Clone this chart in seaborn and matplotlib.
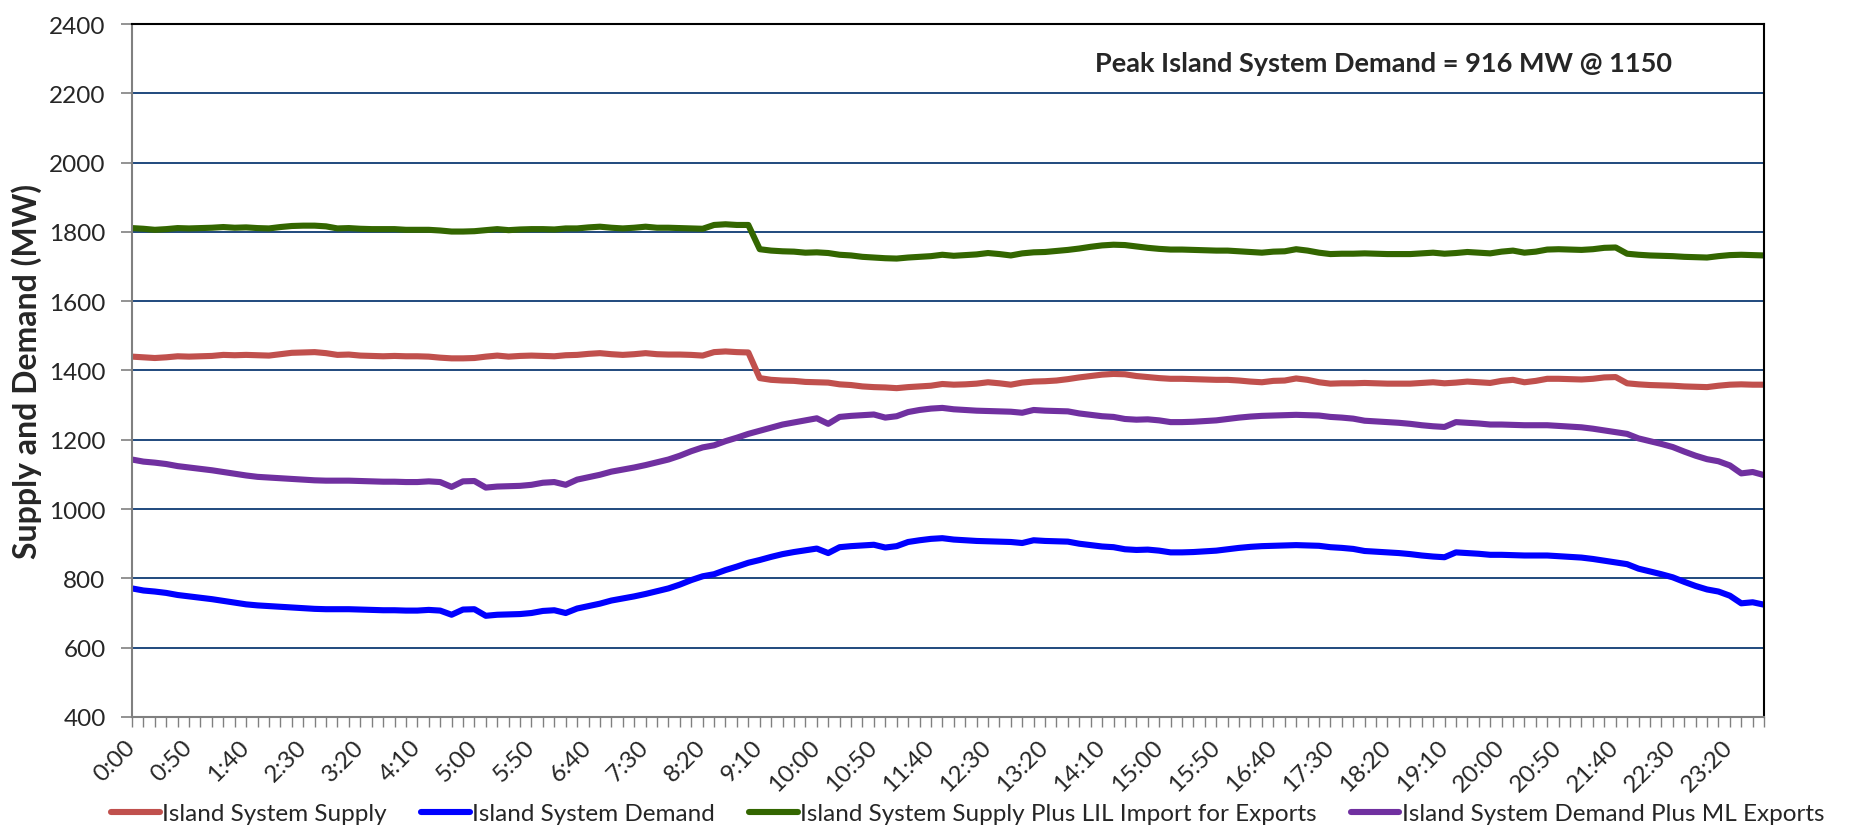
import matplotlib
matplotlib.use('Agg')
import matplotlib.pyplot as plt
import matplotlib.transforms as mtransforms
import seaborn as sns
import pandas as pd

# 10 minute steps over the day
times = [f"{m // 60}:{m % 60:02d}" for m in range(0, 1440, 10)]

series_names = ['Island System Supply', 'Island System Demand',
                'Island System Supply Plus LIL Import for Exports',
                'Island System Demand Plus ML Exports']
series_colors = ['#C0504D', '#0000FF', '#336600', '#7030A0']

supply = [1440, 1438, 1436, 1438, 1441, 1440, 1441, 1442, 1445, 1444,
          1445, 1444, 1443, 1447, 1451, 1452, 1453, 1450, 1445, 1446,
          1443, 1442, 1441, 1442, 1441, 1441, 1440, 1437, 1435, 1435,
          1436, 1440, 1443, 1440, 1442, 1443, 1442, 1441, 1444, 1445,
          1448, 1450, 1447, 1445, 1447, 1450, 1447, 1446, 1446, 1445,
          1443, 1453, 1455, 1453, 1452, 1378, 1373, 1371, 1370, 1367,
          1366, 1365, 1360, 1358, 1354, 1352, 1351, 1349, 1352, 1354,
          1356, 1361, 1359, 1360, 1362, 1366, 1363, 1359, 1365, 1368,
          1369, 1371, 1375, 1380, 1384, 1388, 1390, 1389, 1384, 1381,
          1378, 1376, 1376, 1375, 1374, 1373, 1373, 1371, 1368, 1366,
          1370, 1371, 1377, 1373, 1366, 1362, 1363, 1363, 1364, 1363,
          1362, 1362, 1362, 1364, 1366, 1363, 1365, 1368, 1366, 1364,
          1370, 1373, 1366, 1370, 1376, 1376, 1375, 1374, 1376, 1380,
          1381, 1363, 1360, 1358, 1357, 1356, 1354, 1353, 1352, 1356,
          1359, 1360, 1359, 1359]

demand = [771, 765, 762, 758, 752, 748, 744, 740, 735, 730,
          725, 722, 720, 718, 716, 714, 712, 711, 711, 711,
          710, 709, 708, 708, 707, 707, 709, 707, 695, 710,
          711, 692, 695, 696, 697, 700, 706, 708, 700, 713,
          720, 727, 736, 742, 748, 755, 763, 771, 782, 795,
          806, 812, 824, 834, 845, 853, 862, 870, 876, 881,
          886, 873, 890, 893, 895, 897, 889, 893, 905, 910,
          914, 916, 912, 910, 908, 907, 906, 905, 902, 910,
          908, 907, 906, 900, 896, 892, 890, 884, 882, 883,
          880, 875, 875, 876, 878, 880, 884, 888, 891, 893,
          894, 895, 896, 895, 894, 890, 888, 885, 879, 877,
          875, 873, 870, 866, 863, 861, 875, 873, 871, 868,
          868, 867, 866, 866, 866, 864, 862, 860, 856, 851,
          846, 841, 828, 820, 812, 803, 790, 778, 768, 762,
          750, 728, 731, 724]

supply_lil = [1811, 1809, 1806, 1808, 1811, 1810, 1811, 1812, 1814, 1812,
              1813, 1811, 1810, 1814, 1817, 1818, 1818, 1816, 1810, 1811,
              1809, 1808, 1808, 1808, 1806, 1806, 1806, 1804, 1801, 1801,
              1802, 1805, 1808, 1805, 1807, 1808, 1808, 1807, 1810, 1810,
              1813, 1815, 1812, 1810, 1812, 1815, 1812, 1812, 1811, 1810,
              1809, 1820, 1822, 1820, 1820, 1750, 1746, 1744, 1743, 1740,
              1741, 1739, 1734, 1732, 1728, 1726, 1724, 1723, 1726, 1728,
              1730, 1734, 1731, 1733, 1735, 1739, 1736, 1732, 1738, 1741,
              1742, 1745, 1748, 1752, 1757, 1761, 1763, 1762, 1758, 1754,
              1751, 1749, 1749, 1748, 1747, 1746, 1746, 1744, 1742, 1740,
              1743, 1744, 1750, 1746, 1740, 1736, 1737, 1737, 1738, 1737,
              1736, 1736, 1736, 1738, 1740, 1737, 1739, 1742, 1740, 1738,
              1743, 1746, 1740, 1743, 1749, 1750, 1749, 1748, 1750, 1754,
              1755, 1737, 1734, 1732, 1731, 1730, 1728, 1727, 1726, 1730,
              1733, 1734, 1733, 1732]

demand_ml = [1143, 1137, 1134, 1130, 1124, 1120, 1116, 1112, 1107, 1102,
             1097, 1093, 1091, 1089, 1087, 1085, 1083, 1082, 1082, 1082,
             1081, 1080, 1079, 1079, 1078, 1078, 1080, 1078, 1064, 1080,
             1081, 1062, 1065, 1066, 1067, 1070, 1076, 1078, 1070, 1085,
             1092, 1099, 1108, 1114, 1120, 1127, 1135, 1143, 1154, 1167,
             1178, 1184, 1196, 1206, 1217, 1226, 1235, 1244, 1250, 1256,
             1262, 1246, 1266, 1269, 1271, 1273, 1264, 1268, 1280, 1286,
             1290, 1292, 1288, 1286, 1284, 1283, 1282, 1281, 1278, 1286,
             1284, 1283, 1282, 1276, 1272, 1268, 1266, 1260, 1258, 1259,
             1256, 1251, 1251, 1252, 1254, 1256, 1260, 1264, 1267, 1269,
             1270, 1271, 1272, 1271, 1270, 1266, 1264, 1261, 1255, 1253,
             1251, 1249, 1246, 1242, 1239, 1237, 1251, 1249, 1247, 1244,
             1244, 1243, 1242, 1242, 1242, 1240, 1238, 1236, 1232, 1227,
             1222, 1217, 1204, 1196, 1188, 1179, 1166, 1154, 1144, 1138,
             1126, 1103, 1107, 1098]

peak_text = 'Peak Island System Demand = 916 MW @ 1150'
y_ticks = [400, 600, 800, 1000, 1200, 1400, 1600, 1800, 2000, 2200, 2400]

wide = pd.DataFrame({'slot': range(len(times)),
                     series_names[0]: supply,
                     series_names[1]: demand,
                     series_names[2]: supply_lil,
                     series_names[3]: demand_ml})
df = wide.melt(id_vars='slot', var_name='series', value_name='MW')

sns.set_style('white')
plt.rcParams['font.family'] = ['Lato', 'DejaVu Sans']

fig, ax = plt.subplots(figsize=(18.54, 8.28), dpi=100)
fig.subplots_adjust(left=0.0712, right=0.9515, top=0.9698, bottom=0.1329)

sns.lineplot(data=df, x='slot', y='MW', hue='series', hue_order=series_names,
             palette=dict(zip(series_names, series_colors)), estimator=None,
             linewidth=4.4, ax=ax)

ax.set_xlim(0, len(times) - 1)
ax.set_ylim(400, 2400)
ax.set_yticks(y_ticks)
ax.yaxis.grid(True, color='#1F497D', linewidth=1.4)
ax.xaxis.grid(False)
ax.set_axisbelow(True)

ax.set_xticks(range(len(times)))
ax.set_xticklabels([t if i % 5 == 0 else '' for i, t in enumerate(times)],
                   rotation=45, ha='right', va='center', rotation_mode='anchor',
                   fontsize=17.5)
shift = mtransforms.ScaledTranslation(10 / 100, 0, fig.dpi_scale_trans)
for lab in ax.get_xticklabels():
    lab.set_transform(lab.get_transform() + shift)

ax.tick_params(axis='x', bottom=True, length=7, width=1, color='#808080', pad=12)
ax.tick_params(axis='y', left=True, length=8, width=1.2, color='#808080',
               labelsize=17.5, pad=11)

for side in ['left', 'bottom']:
    ax.spines[side].set_color('#808080')
    ax.spines[side].set_linewidth(1.5)
for side in ['top', 'right']:
    ax.spines[side].set_color('black')
    ax.spines[side].set_linewidth(1.5)

ax.set_xlabel('')
ax.set_ylabel('Supply and Demand (MW)', fontsize=23, fontweight='bold')
ax.yaxis.set_label_coords(-0.055, 0.5)

ax.text(0.767, 0.944, peak_text, transform=ax.transAxes, ha='center', va='center',
        fontsize=19.5, fontweight='bold')

handles, labels = ax.get_legend_handles_labels()
ax.get_legend().remove()
fig.legend(handles, labels, loc='center', bbox_to_anchor=(0.522, 0.016), ncol=4,
           frameon=False, fontsize=17.5, handlelength=2.0, handletextpad=0.1,
           columnspacing=1.4)

fig.savefig('out.png', dpi=100)
